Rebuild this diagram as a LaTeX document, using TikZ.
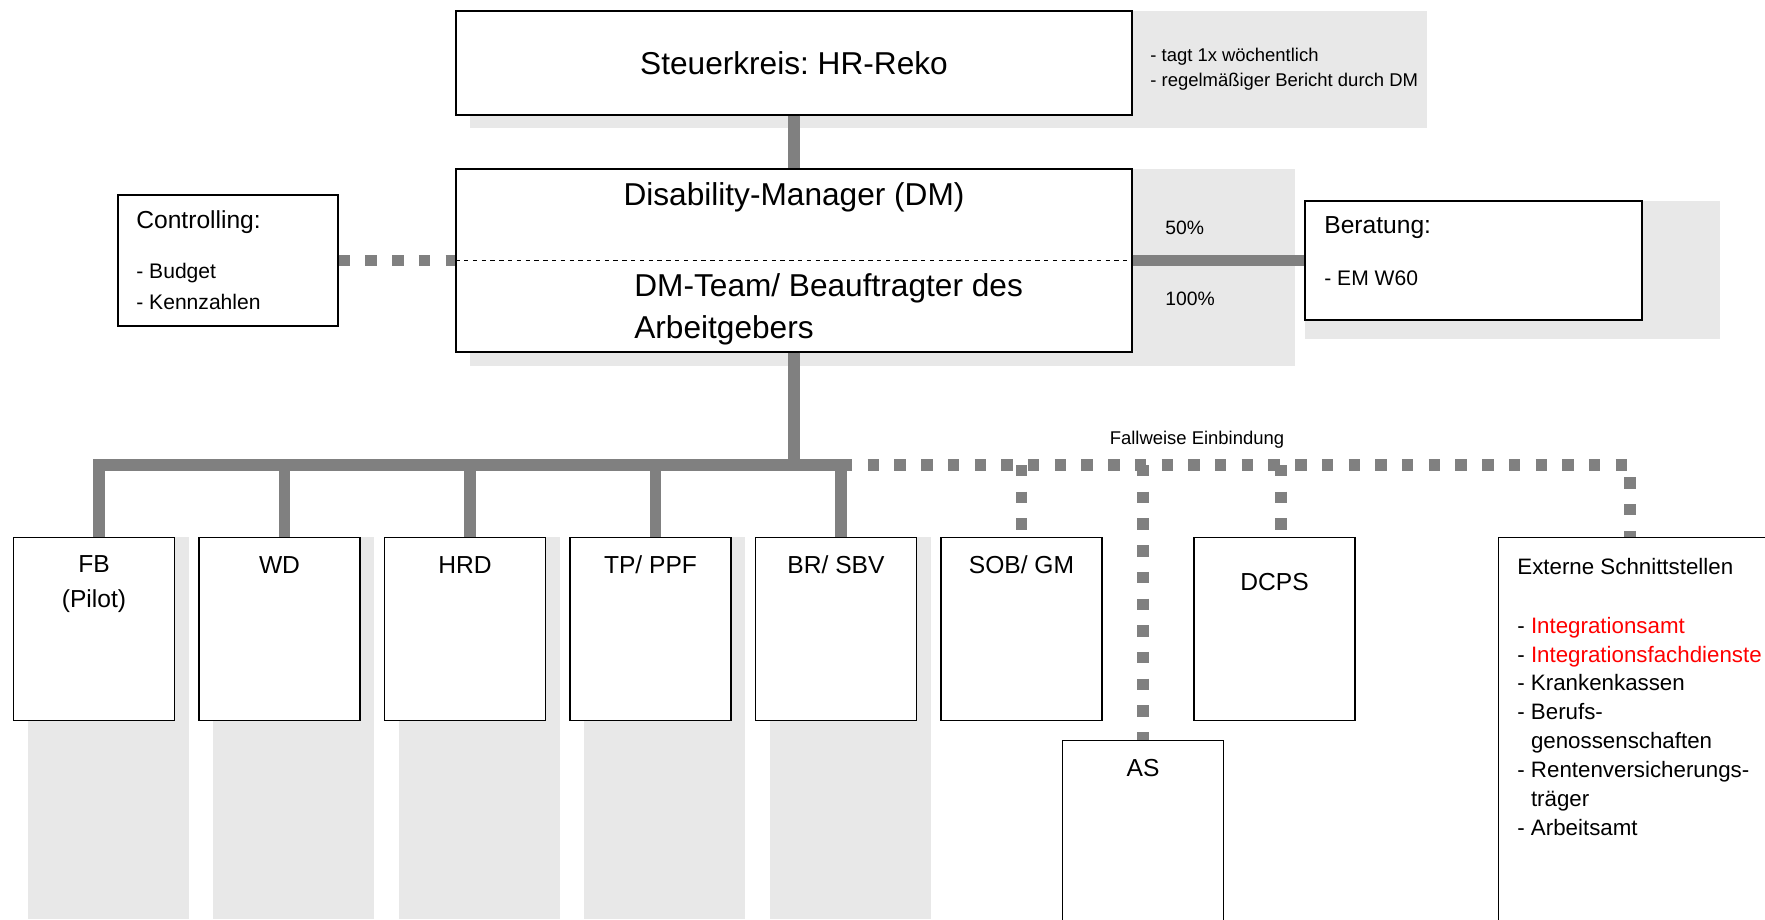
\documentclass[tikz,border=0pt]{standalone}
\usepackage{xcolor}
\usepackage{fontspec}
\setmainfont{Liberation Sans}
\frenchspacing
\usetikzlibrary{positioning}
\definecolor{linkgray}{HTML}{808080}
\definecolor{shadegray}{HTML}{E8E8E8}
\definecolor{notered}{HTML}{FF0000}

\begin{document}
\begin{tikzpicture}[
  panel/.style={draw=black, fill=white, line width=0.8pt, inner sep=0pt},
  unit/.style={panel, minimum width=3.22cm, minimum height=3.66cm, anchor=north},
  link/.style={draw=linkgray, line width=6.5pt},
  maybe/.style={link, dash pattern=on 6.5pt off 8.7pt},
  txt/.style={inner sep=0pt},
  bigtxt/.style={txt, font=\fontsize{18}{24}\selectfont},
  midtxt/.style={txt, font=\fontsize{14}{20}\selectfont},
  lsttxt/.style={txt, align=left, font=\fontsize{12}{17.6}\selectfont},
  smalltxt/.style={txt, align=left, font=\fontsize{10.5}{14.2}\selectfont},
]
  \useasboundingbox (0,0) rectangle (35.30,-18.38);
  \clip (0,0) rectangle (35.30,-18.38);

  % grey backdrops
  \fill[shadegray] (9.40,-0.22) rectangle (28.54,-2.56);
  \fill[shadegray] (9.40,-3.38) rectangle (25.90,-7.32);
  \fill[shadegray] (26.10,-4.02) rectangle (34.40,-6.78);
  \foreach \x in {0.27,3.98,7.69,11.40,15.11}{
    \fill[shadegray] (\x+0.28,-10.74) rectangle (\x+3.50,-18.38);
  }

  % top part
  \node[panel, minimum width=13.52cm, minimum height=2.08cm, bigtxt] (steuer) at (15.88,-1.26) {Steuerkreis: HR-Reko};
  \node[smalltxt, anchor=west] (rhythm) at (23.00,-1.39) {- tagt 1x wöchentlich\\- regelmäßiger Bericht durch DM};

  \node[panel, minimum width=13.52cm, minimum height=3.66cm] (dm) at (15.88,-5.21) {};
  \draw[line width=0.6pt, dash pattern=on 2.5pt off 2.5pt] (dm.west) -- (dm.east);
  \node[bigtxt] (dmhead) at (15.88,-3.94) {Disability-Manager (DM)};
  \node[bigtxt, align=left, anchor=west] (dmteam) at (12.68,-6.18) {DM-Team/ Beauftragter des\\Arbeitgebers};

  \node[panel, minimum width=4.40cm, minimum height=2.62cm] (ctrl) at (4.56,-5.21) {};
  \node[midtxt, anchor=west] (ctrlhead) at (2.72,-4.44) {Controlling:};
  \node[lsttxt, anchor=west] (ctrllist) at (2.72,-5.73) {- Budget\\- Kennzahlen};

  \node[panel, minimum width=6.74cm, minimum height=2.38cm] (berat) at (29.47,-5.21) {};
  \node[midtxt, anchor=west] (berathead) at (26.48,-4.56) {Beratung:};
  \node[lsttxt, anchor=west] (beratlist) at (26.48,-5.56) {- EM W60};

  \node[smalltxt, anchor=west, font=\fontsize{11}{13}\selectfont] (half) at (23.30,-4.56) {50\%};
  \node[smalltxt, anchor=west, font=\fontsize{11}{13}\selectfont] (full) at (23.30,-5.98) {100\%};

  % units
  \foreach \n/\x in {fb/1.88,wd/5.59,hrd/9.30,tp/13.01,br/16.72,sob/20.43,dcps/25.49}{
    \node[unit] (\n) at (\x,-10.74) {};
  }
  \node[unit, minimum height=4.4cm] (as) at (22.86,-14.80) {};
  \node[panel, anchor=north west, minimum width=6cm, minimum height=8.5cm] (ext) at (29.96,-10.74) {};

  \node[midtxt, align=center] (fblabel) at ([yshift=-0.94cm]fb.north) {FB\\(Pilot)};
  \foreach \n/\t in {wd/WD,hrd/HRD,tp/{TP/ PPF},br/{BR/ SBV},sob/{SOB/ GM},as/AS}{
    \node[midtxt] (\n label) at ([yshift=-0.56cm]\n.north) {\t};
  }
  \node[midtxt] (dcpslabel) at ([yshift=-0.90cm]dcps.north) {DCPS};

  \node[txt, anchor=west, font=\fontsize{12.7}{16.5}\selectfont] (exthead) at (30.34,-11.34) {Externe Schnittstellen};
  \node[txt, anchor=west, align=left, font=\fontsize{12.7}{16.5}\selectfont] (extlist) at (30.34,-14.53)
    {- \textcolor{notered}{Integrationsamt}\\- \textcolor{notered}{Integrationsfachdienste}\\- Krankenkassen\\- Berufs-\\\phantom{- }genossenschaften\\- Rentenversicherungs-\\\phantom{- }träger\\- Arbeitsamt};

  % connectors
  \coordinate (hub) at (15.88,-9.30);
  \coordinate (extdrop) at (32.60,-10.74);
  \draw[link] (steuer.south) -- (dm.north);
  \draw[link] (dm.east) -- (berat.west);
  \draw[maybe] (ctrl.east) -- (dm.west);
  \draw[link] (dm.south) -- (hub);
  \draw[link] ([xshift=0.1cm]fb.north) -- ([xshift=0.1cm]fb.north |- hub) -- ([xshift=0.1cm]br.north |- hub) -- ([xshift=0.1cm]br.north);
  \foreach \n in {wd,hrd,tp}{
    \draw[link] ([xshift=0.1cm]\n.north |- hub) -- ([xshift=0.1cm]\n.north);
  }
  \draw[maybe] ([xshift=0.1cm]br.north |- hub) -- (extdrop |- hub) -- (extdrop);
  \foreach \n in {sob,as}{
    \draw[maybe] (\n.north |- hub) -- (\n.north);
  }
  \draw[maybe] ([xshift=0.13cm]dcps.north |- hub) -- ([xshift=0.13cm]dcps.north);
  \node[smalltxt] (caselabel) at (23.94,-8.80) {Fallweise Einbindung};
\end{tikzpicture}
\end{document}
